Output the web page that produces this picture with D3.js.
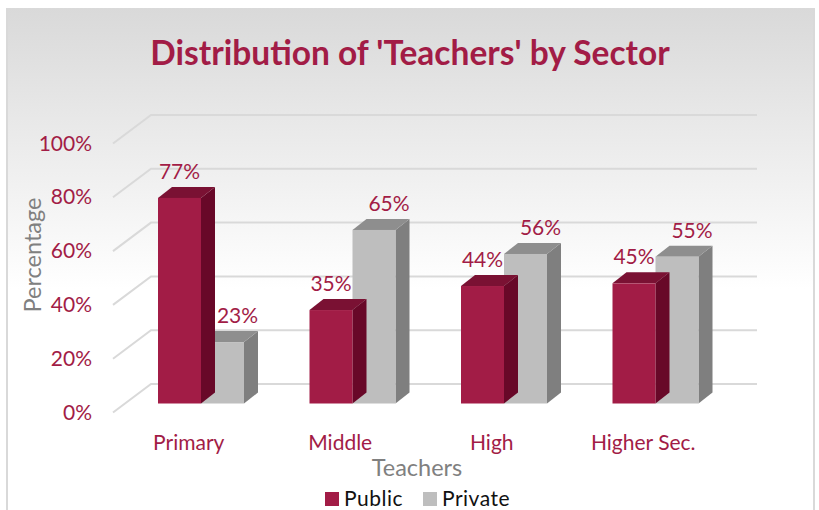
<!DOCTYPE html>
<html>
<head>
<meta charset="utf-8">
<script src="https://cdn.jsdelivr.net/npm/d3@7"></script>
<style>
  html, body { margin: 0; padding: 0; background: #fff; }
  svg { display: block; }
  text { font-family: Lato, "Open Sans", sans-serif; }
</style>
</head>
<body>
<svg width="819" height="510"></svg>
<script>
const categories = ["Primary", "Middle", "High", "Higher Sec."];
const seriesNames = ["Public", "Private"];
const publicValues = [77, 35, 44, 45];
const privateValues = [23, 65, 56, 55];
const yTicks = [0, 20, 40, 60, 80, 100];

const red = "#a21c46";
const colors = {
  Public: { front: "#a21c46", side: "#680828", top: "#7a1133" },
  Private: { front: "#bebebe", side: "#7f7f7f", top: "#8e8e8e" },
};

const svg = d3.select("svg");

const defs = svg.append("defs");
const grad = defs
  .append("linearGradient")
  .attr("id", "panelBg")
  .attr("x1", 0)
  .attr("x2", 0)
  .attr("y1", 0)
  .attr("y2", 1);
grad.append("stop").attr("offset", "0%").attr("stop-color", "#d9d9d9");
grad.append("stop").attr("offset", "56%").attr("stop-color", "#ffffff");
grad.append("stop").attr("offset", "100%").attr("stop-color", "#ffffff");

svg
  .append("rect")
  .attr("x", 7)
  .attr("y", 8)
  .attr("width", 807)
  .attr("height", 502)
  .attr("fill", "url(#panelBg)");
// left and right edge of the chart frame
svg.append("line").attr("x1", 7).attr("x2", 7).attr("y1", 8).attr("y2", 510)
  .attr("stroke", "#d9d9d9").attr("stroke-width", 2);
svg.append("line").attr("x1", 814).attr("x2", 814).attr("y1", 8).attr("y2", 510)
  .attr("stroke", "#d9d9d9").attr("stroke-width", 2);

// front plane of the 3d box, axis labels sit on this
const x = d3.scaleBand().domain(categories).range([113, 719]);
const y = d3.scaleLinear().domain([0, 100]).range([412.5, 143.5]);

// bars stand a little way inside the box
const barY = d3.scaleLinear().domain([0, 100]).range([403.5, 136.5]);
const barX = (c) => x(c) + 12 + 33;
const sub = d3.scaleBand().domain(seriesNames).range([0, 86]);
const depthX = 14;
const depthY = 11;
const backX = 38;
const backY = 28.5;

// gridlines: diagonal on the side wall, then along the back wall
const grid = svg.append("g").attr("fill", "none").attr("stroke", "#d9d9d9").attr("stroke-width", 2);
yTicks.forEach((t) => {
  grid
    .append("path")
    .attr("d", d3.line()([
      [x.range()[0], y(t)],
      [x.range()[0] + backX, y(t) - backY],
      [x.range()[1] + backX, y(t) - backY],
    ]));
});

title();
bars();
axisLabels();
legend();

function title() {
  svg
    .append("text")
    .attr("x", 410)
    .attr("y", 65)
    .attr("text-anchor", "middle")
    .attr("font-size", 33.5)
    .attr("font-weight", 700)
    .attr("fill", red)
    .text("Distribution of 'Teachers' by Sector");
}

function bars() {
  const rows = [];
  seriesNames.forEach((s, si) => {
    const values = si === 0 ? publicValues : privateValues;
    categories.forEach((c, i) => rows.push({ series: s, si, cat: c, value: values[i] }));
  });

  // draw back to front so a private bar does not cover the public side face wrongly
  const bar = svg
    .append("g")
    .selectAll("g")
    .data(rows.slice().sort((a, b) => b.si - a.si))
    .join("g");

  const left = (d) => barX(d.cat) + sub(d.series);
  const w = sub.bandwidth();

  bar
    .append("path")
    .attr("fill", (d) => colors[d.series].side)
    .attr("d", (d) => {
      const x1 = left(d) + w;
      return d3.line()([
        [x1, barY(d.value)],
        [x1 + depthX, barY(d.value) - depthY],
        [x1 + depthX, barY(0) - depthY],
        [x1, barY(0)],
      ]) + "Z";
    });
  bar
    .append("path")
    .attr("fill", (d) => colors[d.series].top)
    .attr("d", (d) => {
      const x0 = left(d);
      return d3.line()([
        [x0, barY(d.value)],
        [x0 + depthX, barY(d.value) - depthY],
        [x0 + w + depthX, barY(d.value) - depthY],
        [x0 + w, barY(d.value)],
      ]) + "Z";
    });
  bar
    .append("rect")
    .attr("x", left)
    .attr("y", (d) => barY(d.value))
    .attr("width", w)
    .attr("height", (d) => barY(0) - barY(d.value))
    .attr("fill", (d) => colors[d.series].front);

  bar
    .append("text")
    .attr("x", (d) => left(d) + w / 2 + d.si * 15)
    .attr("y", (d) => barY(d.value) - 19)
    .attr("text-anchor", "middle")
    .attr("font-size", 21)
    .attr("fill", red)
    .text((d) => d.value + "%");
}

function axisLabels() {
  svg
    .append("g")
    .selectAll("text")
    .data(yTicks)
    .join("text")
    .attr("x", 92)
    .attr("y", (d) => y(d) + 7)
    .attr("text-anchor", "end")
    .attr("font-size", 21)
    .attr("fill", red)
    .text((d) => d + "%");

  svg
    .append("g")
    .selectAll("text")
    .data(categories)
    .join("text")
    .attr("x", (d) => x(d) + x.bandwidth() / 2)
    .attr("y", 450)
    .attr("text-anchor", "middle")
    .attr("font-size", 21)
    .attr("fill", red)
    .text((d) => d);

  svg
    .append("text")
    .attr("x", 417)
    .attr("y", 476)
    .attr("text-anchor", "middle")
    .attr("font-size", 23.5)
    .attr("fill", "#808080")
    .text("Teachers");

  svg
    .append("text")
    .attr("transform", "translate(41,255) rotate(-90)")
    .attr("text-anchor", "middle")
    .attr("font-size", 23.5)
    .attr("fill", "#808080")
    .text("Percentage");
}

function legend() {
  const lx = d3.scaleOrdinal().domain(seriesNames).range([325, 423]);
  const item = svg.append("g").selectAll("g").data(seriesNames).join("g");
  item
    .append("rect")
    .attr("x", (d) => lx(d))
    .attr("y", 492)
    .attr("width", 14)
    .attr("height", 14)
    .attr("fill", (d) => colors[d].front);
  item
    .append("text")
    .attr("x", (d) => lx(d) + 19)
    .attr("y", 506)
    .attr("font-size", 21)
    .attr("letter-spacing", 0.5)
    .attr("fill", "#111")
    .text((d) => d);
}
</script>
</body>
</html>
